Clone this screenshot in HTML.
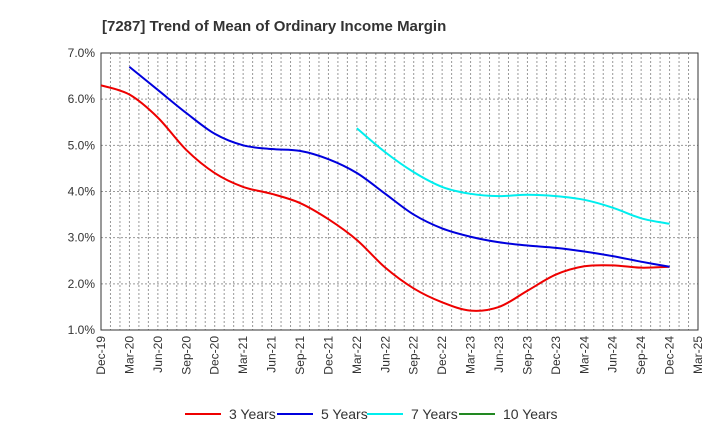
<!DOCTYPE html>
<html><head><meta charset="utf-8"><style>
body{margin:0;background:#fff;font-family:"Liberation Sans",sans-serif}
svg text{font-family:"Liberation Sans",sans-serif}
</style></head><body>
<svg id="c" width="720" height="440">
<text x="102" y="31" font-size="15" font-weight="bold" fill="#333">[7287]  Trend of Mean of Ordinary Income Margin</text>
<g id="grid"></g><g id="axes"></g><g id="series"></g><g id="legend"></g>
</svg>
<script>
const categories=["Dec-19","Mar-20","Jun-20","Sep-20","Dec-20","Mar-21","Jun-21","Sep-21","Dec-21","Mar-22","Jun-22","Sep-22","Dec-22","Mar-23","Jun-23","Sep-23","Dec-23","Mar-24","Jun-24","Sep-24","Dec-24","Mar-25"];
const yTicks=[1,2,3,4,5,6,7];
const s3=[6.3,6.1,5.6,4.9,4.4,4.1,3.95,3.75,3.4,2.95,2.35,1.9,1.6,1.42,1.5,1.85,2.2,2.38,2.4,2.35,2.37];
const s5=[null,6.7,6.2,5.7,5.25,5.0,4.92,4.88,4.7,4.4,3.95,3.5,3.2,3.02,2.9,2.83,2.78,2.7,2.6,2.48,2.37];
const s7=[null,null,null,null,null,null,null,null,null,5.37,4.85,4.42,4.1,3.95,3.9,3.93,3.9,3.82,3.65,3.42,3.3];
const s10=[];
const L=101,R=698,T=53,B=330,NS="http://www.w3.org/2000/svg";
const x=i=>L+(R-L)*i/(categories.length-1);
const y=v=>B-(B-T)*(v-1)/6;
function mk(t,a,p){const e=document.createElementNS(NS,t);for(const k in a)e.setAttribute(k,a[k]);p.appendChild(e);return e;}
const g=document.getElementById('grid'),ax=document.getElementById('axes'),se=document.getElementById('series'),lg=document.getElementById('legend');
for(let m=1;m<63;m++){const xx=L+(R-L)*m/63;const l=mk('line',{x1:xx,x2:xx,y1:T,y2:B,stroke:'#999','stroke-dasharray':'2,2','stroke-width':1},g);

}
yTicks.forEach(v=>{if(v>1&&v<7){const l=mk('line',{x1:L,x2:R,y1:y(v),y2:y(v),stroke:'#999','stroke-dasharray':'2,2'},g);

}
const t=mk('text',{x:L-6,y:y(v)+4,'text-anchor':'end','font-size':12,fill:'#333'},ax);t.textContent=v.toFixed(1)+'%';

});
const fr=mk('rect',{x:L,y:T,width:R-L,height:B-T,fill:'none',stroke:'#333','stroke-width':1},ax);


categories.forEach((c,i)=>{const t=mk('text',{transform:`translate(${x(i)+4},${B+6}) rotate(-90)`,'text-anchor':'end','font-size':12,fill:'#333'},ax);t.textContent=c;

});
function path(d){const p=[];d.forEach((v,i)=>{if(v!=null)p.push([x(i),y(v)]);});if(!p.length)return'';let s=`M${p[0][0]},${p[0][1]}`;
for(let i=0;i<p.length-1;i++){const p0=p[i-1]||p[i],p1=p[i],p2=p[i+1],p3=p[i+2]||p2;
s+=`C${p1[0]+(p2[0]-p0[0])/6},${p1[1]+(p2[1]-p0[1])/6} ${p2[0]-(p3[0]-p1[0])/6},${p2[1]-(p3[1]-p1[1])/6} ${p2[0]},${p2[1]}`;}return s;}
const series=[[s3,'#ee0000','3 Years'],[s5,'#0000dd','5 Years'],[s7,'#00eeee','7 Years'],[s10,'#228822','10 Years']];
series.forEach(([d,c,n],k)=>{const p=mk('path',{d:path(d),fill:'none',stroke:c,'stroke-width':2},se);


const lx=[185,277,367,459][k];
const ll=mk('line',{x1:lx,x2:lx+36,y1:414,y2:414,stroke:c,'stroke-width':2},lg);


const t=mk('text',{x:lx+44,y:419,'font-size':14,fill:'#333'},lg);t.textContent=n;

});
</script>
</body></html>
